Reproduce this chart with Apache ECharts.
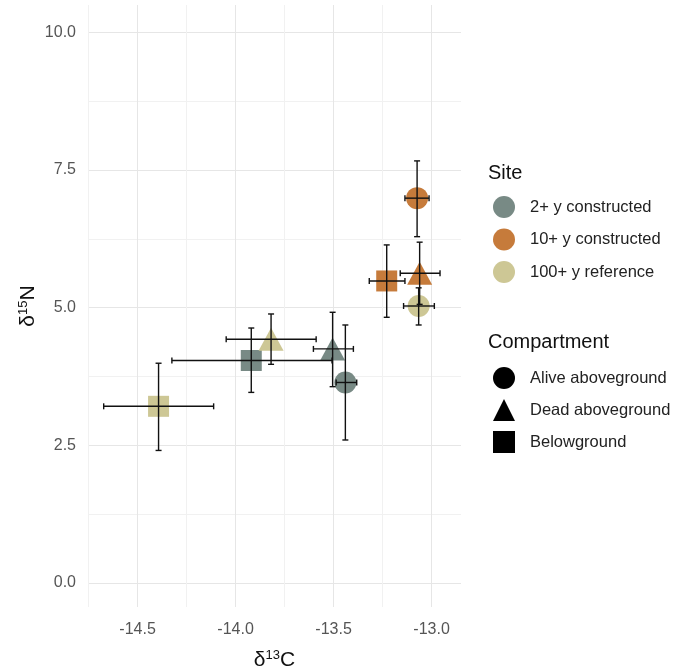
<!DOCTYPE html>
<html>
<head>
<meta charset="utf-8">
<script src="https://cdn.jsdelivr.net/npm/echarts@6/dist/echarts.min.js"></script>
<style>
  html, body { margin: 0; padding: 0; background: #fff; }
  #chart { width: 680px; height: 670px; }
</style>
</head>
<body>
<div id="chart"></div>
<script>
const sites = ['2+ y constructed', '10+ y constructed', '100+ y reference']
const siteColors = ['#788a85', '#c67b3b', '#cdc795']
const compartments = ['Alive aboveground', 'Dead aboveground', 'Belowground']
const compartmentSymbols = ['circle', 'triangle', 'rect']

// one entry per site x compartment mean, with error ranges
const pointSite = [0, 0, 0, 1, 1, 1, 2, 2, 2]
const pointCompartment = [0, 1, 2, 0, 1, 2, 0, 1, 2]
const d13C = [-13.44, -13.505, -13.92, -13.074, -13.061, -13.229, -13.066, -13.819, -14.393]
const d13CLow = [-13.487, -13.603, -14.325, -13.136, -13.16, -13.318, -13.143, -14.048, -14.673]
const d13CHigh = [-13.382, -13.399, -13.508, -13.013, -12.957, -13.136, -12.986, -13.589, -14.112]
const d15N = [3.64, 4.25, 4.04, 6.99, 5.625, 5.485, 5.03, 4.425, 3.207]
const d15NLow = [2.595, 3.564, 3.46, 6.29, 5.06, 4.825, 4.685, 3.97, 2.405]
const d15NHigh = [4.685, 4.916, 4.63, 7.667, 6.19, 6.14, 5.36, 4.885, 3.99]

const xTicks = [-14.75, -14.5, -14.25, -14, -13.75, -13.5, -13.25, -13]
const xLabels = [-14.5, -14, -13.5, -13]
const yTicks = [0, 1.25, 2.5, 3.75, 5, 6.25, 7.5, 8.75, 10]
const yLabels = [0, 2.5, 5, 7.5, 10]

const font = '"Liberation Sans", Arial, sans-serif'
const symbolSizes = [22, [25, 23], 21]

const chart = echarts.init(document.getElementById('chart'))

const siteSeries = sites.map((name, s) => ({
  name: name,
  type: 'scatter',
  z: 2,
  itemStyle: { color: siteColors[s], opacity: 1 },
  data: d13C.map((x, i) => i).filter(i => pointSite[i] === s).map(i => ({
    value: [d13C[i], d15N[i]],
    symbol: compartmentSymbols[pointCompartment[i]],
    symbolSize: symbolSizes[pointCompartment[i]]
  }))
}))

// empty series, only there to feed the shape legend
const compartmentSeries = compartments.map((name, c) => ({
  name: name,
  type: 'scatter',
  symbol: compartmentSymbols[c],
  itemStyle: { color: '#000', opacity: 1 },
  data: []
}))

const errorSeries = {
  type: 'custom',
  z: 5,
  silent: true,
  data: d13C.map((x, i) => [x, d15N[i], d13CLow[i], d13CHigh[i], d15NLow[i], d15NHigh[i]]),
  renderItem: function (params, api) {
    const c = api.coord([api.value(0), api.value(1)])
    const xl = api.coord([api.value(2), api.value(1)])
    const xh = api.coord([api.value(3), api.value(1)])
    const yl = api.coord([api.value(0), api.value(4)])
    const yh = api.coord([api.value(0), api.value(5)])
    const cap = 3
    const style = { stroke: '#111', lineWidth: 1.4 }
    const line = (x1, y1, x2, y2) => ({ type: 'line', shape: { x1, y1, x2, y2 }, style })
    return {
      type: 'group',
      children: [
        line(xl[0], c[1], xh[0], c[1]),
        line(xl[0], c[1] - cap, xl[0], c[1] + cap),
        line(xh[0], c[1] - cap, xh[0], c[1] + cap),
        line(c[0], yl[1], c[0], yh[1]),
        line(c[0] - cap, yl[1], c[0] + cap, yl[1]),
        line(c[0] - cap, yh[1], c[0] + cap, yh[1])
      ]
    }
  }
}

const titleStyle = { fontFamily: font, fontSize: 20, fontWeight: 'normal', color: '#111' }
const legendText = { fontFamily: font, fontSize: 16.5, color: '#222', padding: [0, 0, 0, 10] }

const option = {
  animation: false,
  textStyle: { fontFamily: font },
  grid: { left: 88, right: 219, top: 5, bottom: 63, containLabel: false, outerBoundsMode: 'none' },
  title: [
    { text: 'Site', left: 483, top: 158, textStyle: titleStyle },
    { text: 'Compartment', left: 483, top: 327, textStyle: titleStyle }
  ],
  legend: [
    {
      orient: 'vertical',
      left: 488,
      top: 191,
      itemWidth: 22,
      itemHeight: 22,
      itemGap: 10.5,
      selectedMode: false,
      textStyle: legendText,
      data: sites.map((name, s) => ({ name: name, icon: 'circle', itemStyle: { color: siteColors[s] } }))
    },
    {
      orient: 'vertical',
      left: 488,
      top: 362,
      itemWidth: 22,
      itemHeight: 22,
      itemGap: 10,
      selectedMode: false,
      textStyle: legendText,
      data: compartments.map((name, c) => ({ name: name, icon: compartmentSymbols[c], itemStyle: { color: '#000', opacity: 1 } }))
    }
  ],
  xAxis: {
    type: 'value',
    min: -14.753,
    max: -12.85,
    name: '{t|δ}{s|13}{t|C}',
    nameLocation: 'middle',
    nameGap: 42,
    nameMoveOverlap: false,
    nameTextStyle: {
      rich: {
        t: { fontFamily: font, fontSize: 21, color: '#111' },
        s: { fontFamily: font, fontSize: 13, color: '#111', padding: [0, 0, 10, 0] }
      }
    },
    axisLine: { show: false },
    axisTick: { show: false, customValues: xTicks },
    axisLabel: {
      customValues: xLabels,
      margin: 15,
      fontSize: 16,
      color: '#555',
      formatter: v => v.toFixed(1)
    },
    splitLine: { show: true, lineStyle: { color: ['#f1f1f1', '#e6e6e6'], width: 1 } }
  },
  yAxis: {
    type: 'value',
    min: -0.44,
    max: 10.5,
    name: '{t|δ}{s|15}{t|N}',
    nameLocation: 'middle',
    nameGap: 48,
    nameMoveOverlap: false,
    nameTextStyle: {
      rich: {
        t: { fontFamily: font, fontSize: 21, color: '#111' },
        s: { fontFamily: font, fontSize: 13, color: '#111', padding: [0, 0, 10, 0] }
      }
    },
    axisLine: { show: false },
    axisTick: { show: false, customValues: yTicks },
    axisLabel: {
      customValues: yLabels,
      margin: 12,
      fontSize: 16,
      color: '#555',
      formatter: v => v.toFixed(1)
    },
    splitLine: { show: true, lineStyle: { color: ['#e6e6e6', '#f1f1f1'], width: 1 } }
  },
  series: [...siteSeries, ...compartmentSeries, errorSeries]
}

chart.setOption(option)
</script>
</body>
</html>
